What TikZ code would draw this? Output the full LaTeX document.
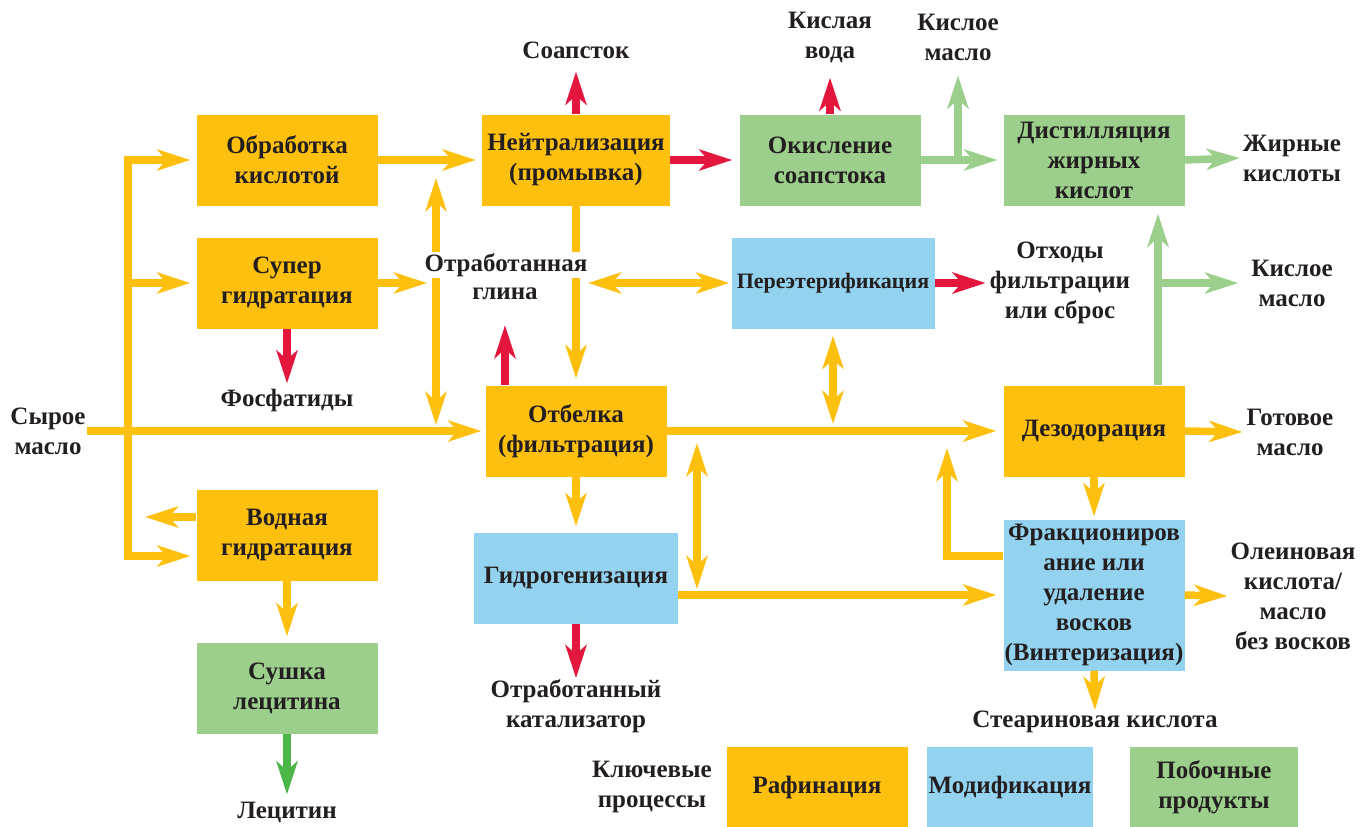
\documentclass[tikz,border=0pt]{standalone}
\usepackage{fontspec}
\setmainfont{Liberation Serif}
\usepackage{xcolor}
\usepackage{tikz}
\usetikzlibrary{arrows.meta,positioning}

\definecolor{refyellow}{HTML}{FEC00F}
\definecolor{refgreen}{HTML}{9BCF8B}
\definecolor{refblue}{HTML}{94D3EF}
\definecolor{refred}{HTML}{E3173E}
\definecolor{lecgreen}{HTML}{4CB748}
\definecolor{ink}{HTML}{231F20}

\begin{document}
\begin{tikzpicture}[
        x=1pt, y=-1pt,
        font=\fontsize{25}{30}\selectfont\bfseries,
        box/.style={
            inner sep=0pt, text=ink,
            minimum width=181pt, minimum height=91pt,
            align=center
        },
        refbox/.style={box, fill=refyellow},
        modbox/.style={box, fill=refblue},
        bybox/.style={box, fill=refgreen},
        lbl/.style={align=center, text=ink, inner sep=1pt},
        tip/.tip={Stealth[length=33pt,width=21pt,inset=9pt]},
        yarrow/.style={draw=refyellow, line width=7.5pt, -tip},
        yboth/.style={draw=refyellow, line width=7.5pt, tip-tip},
        rarrow/.style={draw=refred, line width=7.5pt, -tip},
        garrow/.style={draw=refgreen, line width=7.5pt, -tip},
        darrow/.style={draw=lecgreen, line width=7.5pt, -tip}
    ]

    \path[use as bounding box, fill=white] (0,0) rectangle (1360,827);

    % Process boxes
    \node[refbox] (acid) at (287,160) {Обработка\\кислотой};
    \node[refbox] (super) at (287,283) {Супер\\гидратация};
    \node[refbox, minimum width=188pt] (neut) at (576,160) {Нейтрализация\\(промывка)};
    \node[bybox] (soapox) at (830,160) {Окисление\\соапстока};
    \node[bybox] (dist) at (1094,160) {Дистилляция\\жирных\\кислот};
    \node[modbox, minimum width=203pt, font=\fontsize{22}{26}\selectfont\bfseries] (inter) at (833,283) {Переэтерификация};
    \node[refbox] (bleach) at (576,431) {Отбелка\\(фильтрация)};
    \node[refbox] (deod) at (1094,431) {Дезодорация};
    \node[refbox] (water) at (287,535) {Водная\\гидратация};
    \node[modbox, minimum width=204pt] (hydro) at (576,578) {Гидрогенизация};
    \node[modbox, minimum height=151pt] (frac) at (1094,595) {Фракциониров\\ание или\\удаление\\восков\\(Винтеризация)};
    \node[bybox] (dry) at (287,688) {Сушка\\лецитина};

    % Inputs and outputs
    \node[lbl] (crude) at (48,431) {Сырое\\масло};
    \node[lbl] (soap) at (576,50) {Соапсток};
    \node[lbl] (acidwater) at (830,37) {Кислая\\вода};
    \node[lbl] (acidoil) at (958,37) {Кислое\\масло};
    \node[lbl] (fatty) at (1292,158) {Жирные\\кислоты};
    \node[lbl] (waste) at (1060,283) {Отходы\\фильтрации\\или сброс};
    \node[lbl] (acidoil2) at (1292,283) {Кислое\\масло};
    \node[lbl] (phos) at (287,400) {Фосфатиды};
    \node[lbl] (final) at (1290,432) {Готовое\\масло};
    \node[lbl] (olein) at (1293,596) {Олеиновая\\кислота/\\масло\\без восков};
    \node[lbl] (catal) at (576,706) {Отработанный\\катализатор};
    \node[lbl] (stear) at (1095,722) {Стеариновая кислота};
    \node[lbl] (lecith) at (287,812) {Лецитин};

    % Legend
    \node[lbl] (key) at (652,787) {Ключевые\\процессы};
    \node[refbox, minimum height=80pt] (legref) at (817,787) {Рафинация};
    \node[modbox, minimum width=166pt, minimum height=80pt] (legmod) at (1010,787) {Модификация};
    \node[bybox, minimum width=168pt, minimum height=80pt] (legby) at (1214,787) {Побочные\\продукты};

    % Junctions
    \coordinate (busT) at (128,160);
    \coordinate (busB) at (128,556);
    \coordinate (waterOut) at (145,517);
    \coordinate (clayIn) at (427,283);
    \coordinate (clayT) at (436,178);
    \coordinate (clayB) at (436,425);
    \coordinate (clayR) at (588,283);
    \coordinate (interB) at (833,424);
    \coordinate (hydT) at (697,443);
    \coordinate (hydB) at (697,589);
    \coordinate (fbC) at (947,556);
    \coordinate (fbT) at (947,448);
    \coordinate (oilUp) at (958,160);
    \coordinate (oilSide) at (1158,283);

    % Refining flow
    \draw[yarrow] (busB) -- (busT) -- ([xshift=-6pt]acid.west);
    \draw[yarrow] (busT) -- (busB) -- ([xshift=-6pt]water.west |- busB);
    \draw[yarrow] (busT |- super.west) -- ([xshift=-6pt]super.west);
    \draw[yarrow] (water.west |- waterOut) -- (waterOut);
    \draw[yarrow] (crude.east) -- ([xshift=-4pt]bleach.west);
    \draw[yarrow] (acid.east) -- ([xshift=-6pt]neut.west);
    \draw[yarrow] (super.east) -- (clayIn);
    \draw[yboth] (clayT) -- (clayB);
    \draw[yarrow] (neut.south) -- ([yshift=7pt]bleach.north);
    \draw[yboth] (clayR) -- ([xshift=-2pt]inter.west);
    \draw[yboth] ([yshift=-7pt]inter.south) -- (interB);
    \draw[yarrow] (bleach.east) -- ([xshift=-7pt]deod.west);
    \draw[yarrow] (bleach.south) -- ([yshift=6pt]hydro.north);
    \draw[yboth] (hydT) -- (hydB);
    \draw[yarrow] (hydro.east |- frac.west) -- ([xshift=-7pt]frac.west);
    \draw[yarrow] (frac.west |- fbC) -- (fbC) -- (fbT);
    \draw[yarrow] (deod.south) -- ([yshift=3pt]frac.north);
    \draw[yarrow] (frac.south) -- (stear.north);
    \draw[yarrow] (deod.east) -- ([xshift=-3pt]final.west);
    \draw[yarrow] (frac.east) -- ([xshift=-2pt]olein.west);
    \draw[yarrow] (water.south) -- ([yshift=6pt]dry.north);

    % Waste streams
    \draw[rarrow] (super.south) -- ([yshift=4pt]phos.north);
    \draw[rarrow] (neut.north) -- ([yshift=-12pt]soap.south);
    \draw[rarrow] (neut.east) -- ([xshift=-7pt]soapox.west);
    \draw[rarrow] (soapox.north) -- ([yshift=-14pt]acidwater.south);
    \draw[rarrow] (inter.east) -- ([xshift=-3pt]waste.west);
    \draw[rarrow] (hydro.south) -- (catal.north);

    % By-products
    \draw[garrow] (soapox.east) -- ([xshift=-6pt]dist.west);
    \draw[garrow] (oilUp) -- ([yshift=-14pt]acidoil.south);
    \draw[garrow] (dist.east) -- ([xshift=-2pt]fatty.west);
    \draw[garrow] (deod.north -| oilSide) -- ([yshift=-8pt]dist.south -| oilSide);
    \draw[garrow] (oilSide) -- ([xshift=-12pt]acidoil2.west);
    \draw[darrow] (dry.south) -- ([yshift=6pt]lecith.north);

    % Clay label over the lines
    \node[lbl, fill=white] (clay) at (506,265) {Отработанная};
    \node[lbl] (clay2) at (505,294) {глина};
    \draw[rarrow] (clay2.south |- bleach.north) -- ([yshift=-24pt]clay2.south);

\end{tikzpicture}
\end{document}
